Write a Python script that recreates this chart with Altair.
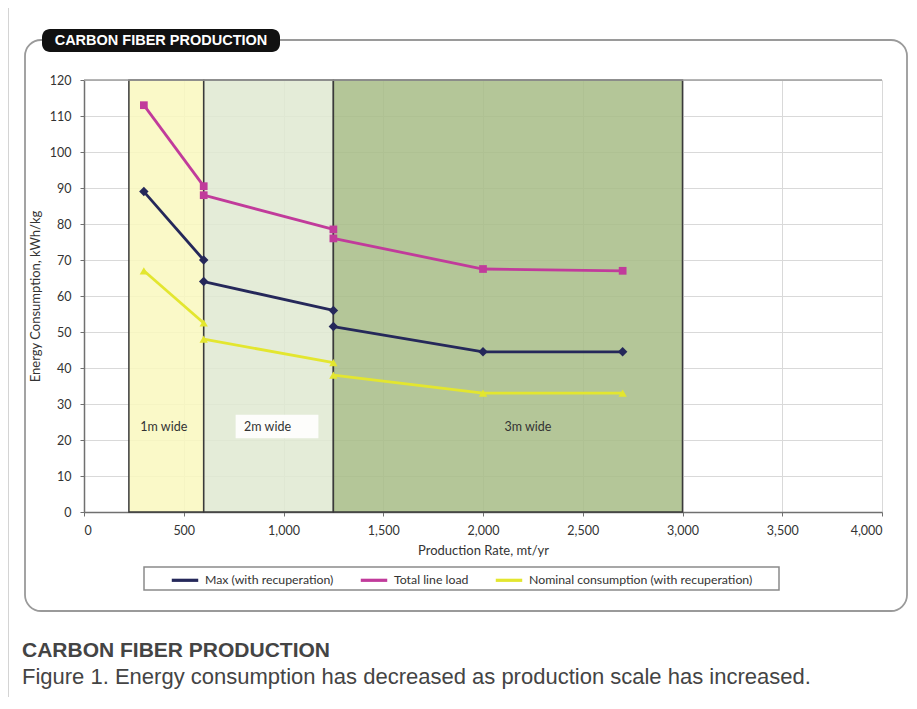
import altair as alt
import pandas as pd

# ---------------- data ----------------
production = [300, 600, 600, 1250, 1250, 2000, 2700]
segment = [1, 1, 2, 2, 3, 3, 3]
max_recup = [89, 70, 64, 56, 51.5, 44.5, 44.5]
total_load = [113, 90.5, 88, 78.5, 76, 67.5, 67]
nominal = [67, 52.5, 48, 41.5, 38, 33, 33]
series_names = ["Max (with recuperation)", "Total line load",
                "Nominal consumption (with recuperation)"]
series_colors = ["#25285a", "#c13b9b", "#e3e62f"]
series_shapes = ["diamond", "square", "triangle-up"]
series_sizes = [90, 60, 70]

region_names = ["1m wide", "2m wide", "3m wide"]
region_start = [225, 600, 1250]
region_end = [600, 1250, 3000]
region_fill = ["#f9f8be", "#dfe9d1", "#a7bc86"]
label_x = [400, 920, 2225]
label_y = [23.5, 23.5, 23.5]
label_box = {"x": [760], "x2": [1175], "y": [20.5], "y2": [27]}

x_ticks = [0, 500, 1000, 1500, 2000, 2500, 3000, 3500, 4000]
y_ticks = [0, 10, 20, 30, 40, 50, 60, 70, 80, 90, 100, 110, 120]

badge_text = "CARBON FIBER PRODUCTION"
caption_title = "CARBON FIBER PRODUCTION"
caption_text = "Figure 1. Energy consumption has decreased as production scale has increased."

# ---------------- tables ----------------
rows = []
for name, vals in zip(series_names, [max_recup, total_load, nominal]):
    for p, s, v in zip(production, segment, vals):
        rows.append({"production": p, "value": v, "series": name,
                     "seg": f"{name}-{s}"})
lines_df = pd.DataFrame(rows)
regions_df = pd.DataFrame({"region": region_names, "start": region_start,
                           "end": region_end})
labels_df = pd.DataFrame({"region": region_names, "lx": label_x, "ly": label_y})
box_df = pd.DataFrame(label_box)

FONT = "Lato"
XT = "Production Rate, mt/yr"
YT = "Energy Consumption, kWh/kg"
xs = alt.Scale(domain=[0, 4000], nice=False)
ys = alt.Scale(domain=[0, 120], nice=False)
x_axis = alt.Axis(values=x_ticks, format=",.0f", grid=True, titleX=399, titleY=38,
                  titleBaseline="middle", tickSize=4, labelPadding=8, labelOverlap=False)
y_axis = alt.Axis(values=y_ticks, format=".0f", grid=True, titleX=-49, titleY=216,
                  titleBaseline="middle", titleAlign="center", tickSize=4,
                  labelPadding=9, labelOverlap=False)

W, H = 798, 432

def X(field):
    return alt.X(field, type="quantitative", scale=xs, axis=x_axis, title=XT)

def Y(field):
    return alt.Y(field, type="quantitative", scale=ys, axis=y_axis, title=YT)

layers = []

# outer rounded frame
one = pd.DataFrame({"k": [1]})
layers.append(alt.Chart(one).mark_rect(fillOpacity=0, stroke="#9a9a9a", strokeWidth=1.8,
                                       cornerRadius=16).encode(
    x=alt.value(-59), x2=alt.value(823), y=alt.value(-40), y2=alt.value(531)))

# legend box
layers.append(alt.Chart(one).mark_rect(fillOpacity=0, stroke="#8a8a8a", strokeWidth=1.5).encode(
    x=alt.value(60), x2=alt.value(695), y=alt.value(487), y2=alt.value(510)))

# regions
for name, fill in zip(region_names, region_fill):
    layers.append(alt.Chart(regions_df).transform_filter(
        alt.datum.region == name).mark_rect(
        fill=fill, fillOpacity=0.85, stroke="#3a3a3a", strokeWidth=1.5).encode(
        x=X("start"), x2="end",
        y=alt.Y(datum=120, type="quantitative", scale=ys, axis=y_axis, title=YT),
        y2=alt.datum(0)))

# top border line
layers.append(alt.Chart(one).mark_rule(color="#9c9c9c", strokeWidth=1.5).encode(
    x=alt.X(datum=0, type="quantitative", scale=xs, axis=x_axis, title=XT),
    x2=alt.datum(4000),
    y=alt.Y(datum=120, type="quantitative", scale=ys, axis=y_axis, title=YT)))

# label background box
layers.append(alt.Chart(box_df).mark_rect(fill="white", fillOpacity=0.9).encode(
    x=X("x"), x2="x2", y=Y("y"), y2="y2"))

# region labels
layers.append(alt.Chart(labels_df).mark_text(font=FONT, fontSize=12.5, color="#333",
                                             baseline="middle").encode(
    x=X("lx"), y=Y("ly"), text="region:N"))

color = alt.Color("series:N", scale=alt.Scale(domain=series_names, range=series_colors),
                  legend=alt.Legend(orient="none", legendX=86, legendY=485,
                                    direction="horizontal", title=None,
                                    symbolType="stroke", symbolStrokeWidth=3.2,
                                    symbolSize=700, labelFont=FONT, labelFontSize=12.3,
                                    labelColor="#333", labelLimit=400,
                                    padding=0, columnPadding=20,
                                    labelOffset=5))

layers.append(alt.Chart(lines_df).mark_line(strokeWidth=2.8).encode(
    x=X("production"), y=Y("value"), color=color, detail="seg:N"))

for name, col, shp, sz in zip(series_names, series_colors, series_shapes, series_sizes):
    layers.append(alt.Chart(lines_df).transform_filter(
        alt.datum.series == name).mark_point(
        filled=True, size=sz, opacity=1, color=col, shape=shp).encode(
        x=X("production"), y=Y("value")))

# title badge
layers.append(alt.Chart(one).mark_rect(fill="#111111", cornerRadius=8).encode(
    x=alt.value(-42), x2=alt.value(196), y=alt.value(-51), y2=alt.value(-28)))
layers.append(alt.Chart(pd.DataFrame({"t": [badge_text]})).mark_text(
    font="Liberation Sans", fontWeight="bold", fontSize=14.5, color="white",
    align="center", baseline="middle").encode(
    x=alt.value(77), y=alt.value(-39.5), text="t:N"))

# caption
layers.append(alt.Chart(pd.DataFrame({"t": [caption_title]})).mark_text(
    font="Liberation Sans", fontWeight="bold", fontSize=21, color="#444",
    align="left", baseline="alphabetic").encode(
    x=alt.value(-62), y=alt.value(577), text="t:N"))
layers.append(alt.Chart(pd.DataFrame({"t": [caption_text]})).mark_text(
    font="Liberation Sans", fontSize=22, color="#444",
    align="left", baseline="alphabetic").encode(
    x=alt.value(-62), y=alt.value(604), text="t:N"))

# page border lines
layers.append(alt.Chart(one).mark_rule(color="#d4d4d4", strokeWidth=1).encode(
    x=alt.value(-76), x2=alt.value(830), y=alt.value(-79.5)))
layers.append(alt.Chart(one).mark_rule(color="#d4d4d4", strokeWidth=1).encode(
    x=alt.value(-75.5), y=alt.value(-80), y2=alt.value(620)))

chart = alt.layer(*layers).properties(
    width=W, height=H,
    padding={"left": 76, "top": 72, "right": 27, "bottom": 185},
    autosize=alt.AutoSizeParams(type="none"),
    background="white",
).configure_view(stroke=None).configure_axis(
    labelFont=FONT, labelFontSize=12.5, labelColor="#333",
    titleFont=FONT, titleFontSize=13, titleFontWeight="normal", titleColor="#333",
    gridColor="#d9d9d9", gridWidth=1, domainColor="#707070", domainWidth=1.5,
    tickColor="#707070",
)

chart.save("out.html", embed_options={"renderer": "svg", "actions": False})
